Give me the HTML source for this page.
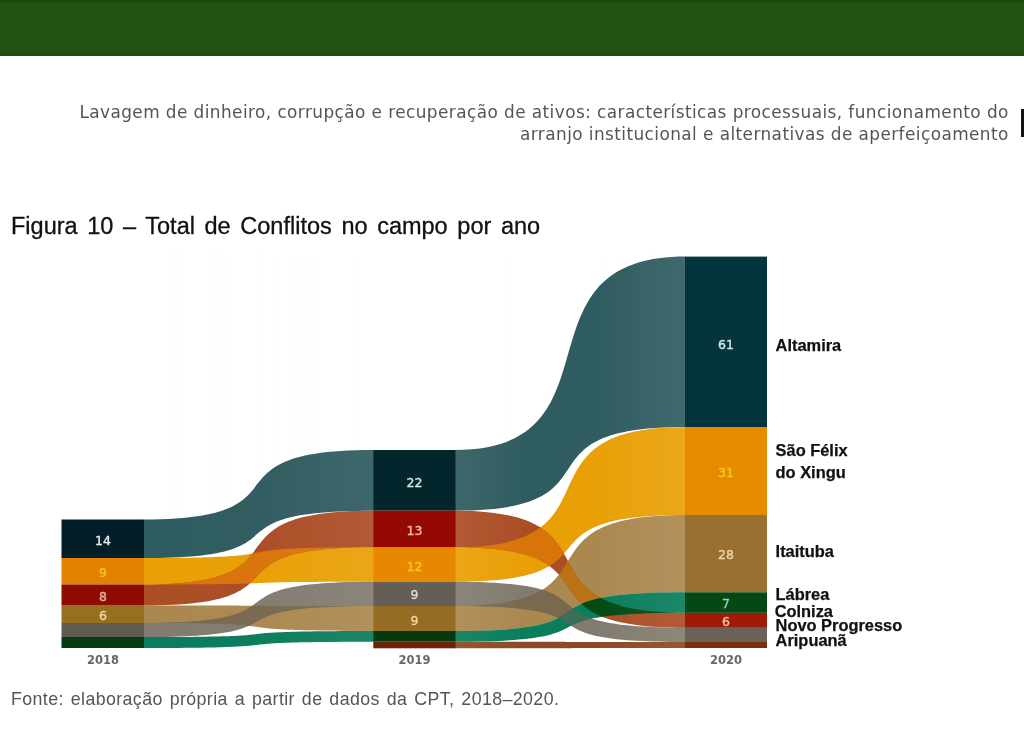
<!DOCTYPE html>
<html lang="pt"><head><meta charset="utf-8"><title>Figura 10</title>
<style>
html,body{margin:0;padding:0;background:#fff;}
body{width:1024px;height:750px;position:relative;overflow:hidden;font-family:"Liberation Sans",sans-serif;}
.top{position:absolute;left:0;top:0;width:1024px;height:55.5px;background:linear-gradient(#1a450c 0,#1c490e 2px,#225214 4px,#225214 49px,#1e4d11 52px,#1e4c10 100%);}
.hdr{position:absolute;right:15.2px;top:100.5px;width:960px;text-align:right;font-family:"DejaVu Sans","Liberation Sans",sans-serif;font-size:16.9px;letter-spacing:0.425px;line-height:22.8px;color:#555;white-space:nowrap;}
.mark{position:absolute;left:1020.5px;top:108.5px;width:4px;height:28.5px;background:#111;}
.title{position:absolute;left:11px;top:213.2px;font-size:23.5px;letter-spacing:0;word-spacing:3.1px;color:#111;-webkit-text-stroke:0.3px #111;white-space:nowrap;}
.src{position:absolute;left:11px;top:689px;font-size:17.8px;letter-spacing:0.4px;word-spacing:1.6px;color:#555;white-space:nowrap;}
svg{position:absolute;left:0;top:0;filter:blur(0.45px);}
.v{font-family:"DejaVu Sans","Liberation Sans",sans-serif;font-size:12.5px;text-anchor:middle;stroke-width:0.35px;}
.yr{font-family:"DejaVu Sans","Liberation Sans",sans-serif;font-size:11.5px;font-weight:bold;text-anchor:middle;fill:#666;}
.lab{font-family:"Liberation Sans",sans-serif;font-size:16.4px;fill:#111;}
.lab.n{stroke:#fff;stroke-width:0.28px;fill:#111;}
.lab.b{font-weight:bold;stroke:#111;stroke-width:0.25px;}
</style></head><body>
<div class="top"></div>
<div class="hdr">Lavagem de dinheiro, corrupção e recuperação de ativos: características processuais, funcionamento do<br>arranjo institucional e alternativas de aperfeiçoamento</div>
<div class="mark"></div>
<div class="title">Figura 10 – Total de Conflitos no campo por ano</div>
<svg width="1024" height="750" viewBox="0 0 1024 750">
<defs><clipPath id="cteal0"><path d="M143.5,519.5 C316.2,519.5 196.5,450.0 373.8,450.0 L373.8,510.7 C196.5,510.7 316.2,558.0 143.5,558.0 Z"/></clipPath><clipPath id="cteal1"><path d="M455.1,450.0 C627.9,450.0 508.1,256.6 685.5,256.6 L685.5,427.0 C508.1,427.0 627.9,510.7 455.1,510.7 Z"/></clipPath><clipPath id="corange0"><path d="M143.5,558.0 C316.2,558.0 196.5,547.3 373.8,547.3 L373.8,581.7 C196.5,581.7 316.2,584.5 143.5,584.5 Z"/></clipPath><clipPath id="corange1"><path d="M455.1,547.3 C627.9,547.3 508.1,427.0 685.5,427.0 L685.5,515.0 C508.1,515.0 627.9,581.7 455.1,581.7 Z"/></clipPath><clipPath id="ctan0"><path d="M143.5,605.5 C316.2,605.5 196.5,606.0 373.8,606.0 L373.8,631.0 C196.5,631.0 316.2,623.0 143.5,623.0 Z"/></clipPath><clipPath id="ctan1"><path d="M455.1,606.0 C627.9,606.0 508.1,515.0 685.5,515.0 L685.5,592.3 C508.1,592.3 627.9,631.0 455.1,631.0 Z"/></clipPath><clipPath id="cgray0"><path d="M143.5,623.0 C316.2,623.0 196.5,581.7 373.8,581.7 L373.8,606.0 C196.5,606.0 316.2,637.0 143.5,637.0 Z"/></clipPath><clipPath id="cgray1"><path d="M455.1,581.7 C627.9,581.7 508.1,627.8 685.5,627.8 L685.5,642.0 C508.1,642.0 627.9,606.0 455.1,606.0 Z"/></clipPath><clipPath id="cred0"><path d="M143.5,584.5 C316.2,584.5 196.5,510.7 373.8,510.7 L373.8,547.3 C196.5,547.3 316.2,605.5 143.5,605.5 Z"/></clipPath><clipPath id="cred1"><path d="M455.1,510.7 C627.9,510.7 508.1,612.8 685.5,612.8 L685.5,627.8 C508.1,627.8 627.9,547.3 455.1,547.3 Z"/></clipPath><clipPath id="cgreen0"><path d="M143.5,637.0 C316.2,637.0 196.5,631.0 373.8,631.0 L373.8,641.7 C196.5,641.7 316.2,648.0 143.5,648.0 Z"/></clipPath><clipPath id="cgreen1"><path d="M455.1,631.0 C627.9,631.0 508.1,592.3 685.5,592.3 L685.5,612.8 C508.1,612.8 627.9,641.7 455.1,641.7 Z"/></clipPath><clipPath id="cbrown1"><path d="M455.1,641.7 C627.9,641.7 508.1,642.0 685.5,642.0 L685.5,648.0 C508.1,648.0 627.9,648.3 455.1,648.3 Z"/></clipPath><linearGradient id="g0" x1="0" x2="1" y1="0" y2="0"><stop offset="0" stop-color="#fff" stop-opacity="0"/><stop offset="0.5" stop-color="#fff" stop-opacity="0.01"/><stop offset="1" stop-color="#fff" stop-opacity="0.07"/></linearGradient><linearGradient id="g1" x1="0" x2="1" y1="0" y2="0"><stop offset="0" stop-color="#fff" stop-opacity="0.07"/><stop offset="0.3" stop-color="#fff" stop-opacity="0"/><stop offset="0.6" stop-color="#fff" stop-opacity="0"/><stop offset="1" stop-color="#fff" stop-opacity="0.08"/></linearGradient></defs>
<path d="M143.5,519.5 C316.2,519.5 196.5,450.0 373.8,450.0 L373.8,510.7 C196.5,510.7 316.2,558.0 143.5,558.0 Z" fill="#2f5c60"/>
<path d="M455.1,450.0 C627.9,450.0 508.1,256.6 685.5,256.6 L685.5,427.0 C508.1,427.0 627.9,510.7 455.1,510.7 Z" fill="#2f5c60"/>
<path d="M143.5,558.0 C316.2,558.0 196.5,547.3 373.8,547.3 L373.8,581.7 C196.5,581.7 316.2,584.5 143.5,584.5 Z" fill="#e9a006"/>
<path d="M455.1,547.3 C627.9,547.3 508.1,427.0 685.5,427.0 L685.5,515.0 C508.1,515.0 627.9,581.7 455.1,581.7 Z" fill="#e9a006"/>
<path d="M143.5,605.5 C316.2,605.5 196.5,606.0 373.8,606.0 L373.8,631.0 C196.5,631.0 316.2,623.0 143.5,623.0 Z" fill="#ab8850"/>
<path d="M455.1,606.0 C627.9,606.0 508.1,515.0 685.5,515.0 L685.5,592.3 C508.1,592.3 627.9,631.0 455.1,631.0 Z" fill="#ab8850"/>
<path d="M143.5,623.0 C316.2,623.0 196.5,581.7 373.8,581.7 L373.8,606.0 C196.5,606.0 316.2,637.0 143.5,637.0 Z" fill="#827c70"/>
<path d="M455.1,581.7 C627.9,581.7 508.1,627.8 685.5,627.8 L685.5,642.0 C508.1,642.0 627.9,606.0 455.1,606.0 Z" fill="#827c70"/>
<path d="M143.5,584.5 C316.2,584.5 196.5,510.7 373.8,510.7 L373.8,547.3 C196.5,547.3 316.2,605.5 143.5,605.5 Z" fill="#ab4e26"/>
<path d="M455.1,510.7 C627.9,510.7 508.1,612.8 685.5,612.8 L685.5,627.8 C508.1,627.8 627.9,547.3 455.1,547.3 Z" fill="#ab4e26"/>
<path d="M143.5,637.0 C316.2,637.0 196.5,631.0 373.8,631.0 L373.8,641.7 C196.5,641.7 316.2,648.0 143.5,648.0 Z" fill="#0a7d5c"/>
<path d="M455.1,631.0 C627.9,631.0 508.1,592.3 685.5,592.3 L685.5,612.8 C508.1,612.8 627.9,641.7 455.1,641.7 Z" fill="#0a7d5c"/>
<path d="M455.1,641.7 C627.9,641.7 508.1,642.0 685.5,642.0 L685.5,648.0 C508.1,648.0 627.9,648.3 455.1,648.3 Z" fill="#8c4a22"/>
<path d="M143.5,623.0 C316.2,623.0 196.5,581.7 373.8,581.7 L373.8,606.0 C196.5,606.0 316.2,637.0 143.5,637.0 Z" fill="#78694f" clip-path="url(#ctan0)"/>
<path d="M143.5,584.5 C316.2,584.5 196.5,510.7 373.8,510.7 L373.8,547.3 C196.5,547.3 316.2,605.5 143.5,605.5 Z" fill="#d9740a" clip-path="url(#corange0)"/>
<path d="M455.1,581.7 C627.9,581.7 508.1,627.8 685.5,627.8 L685.5,642.0 C508.1,642.0 627.9,606.0 455.1,606.0 Z" fill="#78694f" clip-path="url(#ctan1)"/>
<path d="M455.1,510.7 C627.9,510.7 508.1,612.8 685.5,612.8 L685.5,627.8 C508.1,627.8 627.9,547.3 455.1,547.3 Z" fill="#d9740a" clip-path="url(#corange1)"/>
<path d="M455.1,510.7 C627.9,510.7 508.1,612.8 685.5,612.8 L685.5,627.8 C508.1,627.8 627.9,547.3 455.1,547.3 Z" fill="#b97314" clip-path="url(#ctan1)"/>
<path d="M455.1,510.7 C627.9,510.7 508.1,612.8 685.5,612.8 L685.5,627.8 C508.1,627.8 627.9,547.3 455.1,547.3 Z" fill="#8a5a32" clip-path="url(#cgray1)"/>
<path d="M455.1,631.0 C627.9,631.0 508.1,592.3 685.5,592.3 L685.5,612.8 C508.1,612.8 627.9,641.7 455.1,641.7 Z" fill="#2a7a52" clip-path="url(#ctan1)"/>
<path d="M455.1,631.0 C627.9,631.0 508.1,592.3 685.5,592.3 L685.5,612.8 C508.1,612.8 627.9,641.7 455.1,641.7 Z" fill="#3c6e5a" clip-path="url(#cgray1)"/>
<path d="M455.1,631.0 C627.9,631.0 508.1,592.3 685.5,592.3 L685.5,612.8 C508.1,612.8 627.9,641.7 455.1,641.7 Z" fill="#054a12" clip-path="url(#cred1)"/>
<rect x="143.5" y="250" width="230.3" height="400" fill="url(#g0)"/>
<rect x="455" y="250" width="230.5" height="400" fill="url(#g1)"/>
<rect x="61.5" y="519.5" width="82.5" height="38.5" fill="#031e28"/>
<rect x="373.3" y="450.0" width="82.3" height="60.7" fill="#02262c"/>
<rect x="685.0" y="256.6" width="82.0" height="170.4" fill="#04343e"/>
<rect x="61.5" y="558.0" width="82.5" height="26.5" fill="#e28200"/>
<rect x="373.3" y="547.3" width="82.3" height="34.4" fill="#e88700"/>
<rect x="685.0" y="427.0" width="82.0" height="88.0" fill="#e88a00"/>
<rect x="61.5" y="605.5" width="82.5" height="17.5" fill="#96701e"/>
<rect x="373.3" y="606.0" width="82.3" height="25.0" fill="#966c24"/>
<rect x="685.0" y="515.0" width="82.0" height="77.3" fill="#9a7030"/>
<rect x="61.5" y="623.0" width="82.5" height="14.0" fill="#605a50"/>
<rect x="373.3" y="581.7" width="82.3" height="24.3" fill="#645e54"/>
<rect x="685.0" y="627.8" width="82.0" height="14.2" fill="#6a6258"/>
<rect x="61.5" y="584.5" width="82.5" height="21.0" fill="#8e0c04"/>
<rect x="373.3" y="510.7" width="82.3" height="36.6" fill="#960802"/>
<rect x="685.0" y="612.8" width="82.0" height="15.0" fill="#a01a08"/>
<rect x="61.5" y="637.0" width="82.5" height="11.0" fill="#053c10"/>
<rect x="373.3" y="631.0" width="82.3" height="10.7" fill="#043a0e"/>
<rect x="685.0" y="592.3" width="82.0" height="20.5" fill="#054814"/>
<rect x="373.3" y="641.7" width="82.3" height="6.6" fill="#6e240a"/>
<rect x="685.0" y="642.0" width="82.0" height="6.0" fill="#7a2e0a"/>
<text x="103" y="545.3" fill="#e6f0f0" stroke="#e6f0f0" class="v">14</text>
<text x="103" y="576.8" fill="#f6c21a" stroke="#f6c21a" class="v">9</text>
<text x="103" y="600.8" fill="#f0b49a" stroke="#f0b49a" class="v">8</text>
<text x="103" y="619.8" fill="#ecd6a8" stroke="#ecd6a8" class="v">6</text>
<text x="414.5" y="486.8" fill="#cfe6e2" stroke="#cfe6e2" class="v">22</text>
<text x="414.5" y="534.8" fill="#f2c0ae" stroke="#f2c0ae" class="v">13</text>
<text x="414.5" y="570.8" fill="#f8cc20" stroke="#f8cc20" class="v">12</text>
<text x="414.5" y="599.3" fill="#dcdcd6" stroke="#dcdcd6" class="v">9</text>
<text x="414.5" y="624.8" fill="#ecd6a8" stroke="#ecd6a8" class="v">9</text>
<text x="726" y="348.8" fill="#cfe6e2" stroke="#cfe6e2" class="v">61</text>
<text x="726" y="476.8" fill="#f8cc20" stroke="#f8cc20" class="v">31</text>
<text x="726" y="558.8" fill="#ecd6a8" stroke="#ecd6a8" class="v">28</text>
<text x="726" y="608.3" fill="#7fd8c8" stroke="#7fd8c8" class="v">7</text>
<text x="726" y="625.8" fill="#f4c0a0" stroke="#f4c0a0" class="v">6</text>
<text x="103" y="664" class="yr">2018</text>
<text x="414.5" y="664" class="yr">2019</text>
<text x="726" y="664" class="yr">2020</text>
<text x="775.6" y="351" class="lab b">Altamira</text>
<text x="775.6" y="455.5" class="lab b">São Félix</text>
<text x="775.6" y="478.3" class="lab b">do Xingu</text>
<text x="775.6" y="557" class="lab b">Itaituba</text>
<text x="775.6" y="599.6" class="lab b">Lábrea</text>
<text x="774.7" y="616.9" class="lab b n">Colniza</text>
<text x="775.6" y="631.3" class="lab b">Novo Progresso</text>
<text x="775.6" y="646" class="lab b">Aripuanã</text>
</svg>
<div class="src">Fonte: elaboração própria a partir de dados da CPT, 2018–2020.</div>
</body></html>
